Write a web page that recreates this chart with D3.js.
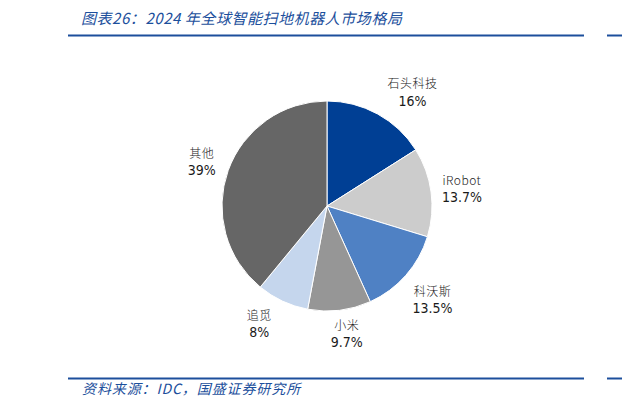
<!DOCTYPE html>
<html>
<head>
<meta charset="utf-8">
<script src="https://cdn.jsdelivr.net/npm/d3@7"></script>
<style>
  html, body { margin: 0; padding: 0; background: #fff; }
  svg { display: block; }
  text { white-space: pre; }
</style>
</head>
<body>
<div id="chart"></div>
<script>
// data
const brands = ["石头科技", "iRobot", "科沃斯", "小米", "追觅", "其他"];
const shares = [16, 13.7, 13.5, 9.7, 8, 39];
const shareLabels = ["16%", "13.7%", "13.5%", "9.7%", "8%", "39%"];

const titleText = "图表26：2024 年全球智能扫地机器人市场格局";
const sourceText = "资料来源：IDC，国盛证券研究所";

const w = 622;
const h = 410;
const cx = 327;
const cy = 206;
const r = 105;
const blue = "#1c4f9c";

const palette = ["#003f94", "#cccccc", "#4f81c4", "#969696", "#c5d6ed", "#666666"];
const color = d3.scaleOrdinal().domain(brands).range(palette);

// small shifts [degrees, px] so labels sit where the original put them
const labelNudge = { "石头科技": [8, 0], "追觅": [5, 0], "小米": [-2, -5] };

const svg = d3.select("#chart")
  .append("svg")
  .attr("width", w)
  .attr("height", h);

// header and footer rules
svg.selectAll(".rule")
  .data([35.5, 378.5])
  .enter()
  .append("g")
  .attr("class", "rule")
  .each(function (y) {
    d3.select(this).append("line")
      .attr("x1", 68).attr("x2", 584).attr("y1", y).attr("y2", y)
      .attr("stroke", blue).attr("stroke-width", 2);
    d3.select(this).append("line")
      .attr("x1", 607).attr("x2", 622).attr("y1", y).attr("y2", y)
      .attr("stroke", blue).attr("stroke-width", 2);
  });

svg.append("text")
  .attr("x", 81)
  .attr("y", 24)
  .attr("font-family", "'Noto Sans CJK SC', sans-serif")
  .attr("font-size", 15)
  .attr("letter-spacing", 0.55)
  .attr("font-style", "italic")
  .attr("fill", blue)
  .text(titleText);

svg.append("text")
  .attr("x", 82)
  .attr("y", 394)
  .attr("font-family", "'Noto Sans CJK SC', sans-serif")
  .attr("font-size", 14)
  .attr("letter-spacing", 0.9)
  .attr("font-style", "italic")
  .attr("fill", blue)
  .text(sourceText);

const pie = d3.pie().sort(null).value(d => d.value);
const arc = d3.arc().innerRadius(0).outerRadius(r);

const slices = pie(brands.map((b, i) => ({ brand: b, value: shares[i], label: shareLabels[i] })));

const g = svg.append("g").attr("transform", `translate(${cx},${cy})`);

g.selectAll("path")
  .data(slices)
  .enter()
  .append("path")
  .attr("d", arc)
  .attr("fill", d => color(d.data.brand))
  .attr("stroke", "#fff")
  .attr("stroke-width", 1);

const labels = g.selectAll(".label")
  .data(slices)
  .enter()
  .append("g")
  .attr("class", "label");

labels.append("text")
  .attr("text-anchor", "middle")
  .attr("y", 0)
  .attr("font-family", "'Noto Sans CJK SC', sans-serif")
  .attr("font-size", 12)
  .attr("font-weight", 300)
  .attr("letter-spacing", 0.5)
  .attr("fill", "#222")
  .text(d => d.data.brand);

labels.append("text")
  .attr("text-anchor", "middle")
  .attr("y", 17.5)
  .attr("font-family", "'DejaVu Sans Condensed', 'Liberation Sans', sans-serif")
  .attr("font-size", 14)
  .attr("fill", "#1a1a1a")
  .text(d => d.data.label);

// place each label box just outside the pie edge, along the slice's mid angle
labels.each(function (d) {
  const sel = d3.select(this);
  const bb = this.getBBox();
  const nudge = labelNudge[d.data.brand] || [0, 0];
  const a = (d.startAngle + d.endAngle) / 2 + nudge[0] * Math.PI / 180;
  const dist = r + 9 + nudge[1] + Math.abs(Math.sin(a)) * bb.width / 2 + Math.abs(Math.cos(a)) * bb.height / 2;
  const px = dist * Math.sin(a);
  const py = -dist * Math.cos(a);
  sel.attr("transform", `translate(${px - (bb.x + bb.width / 2)},${py - (bb.y + bb.height / 2)})`);
});
</script>
</body>
</html>
